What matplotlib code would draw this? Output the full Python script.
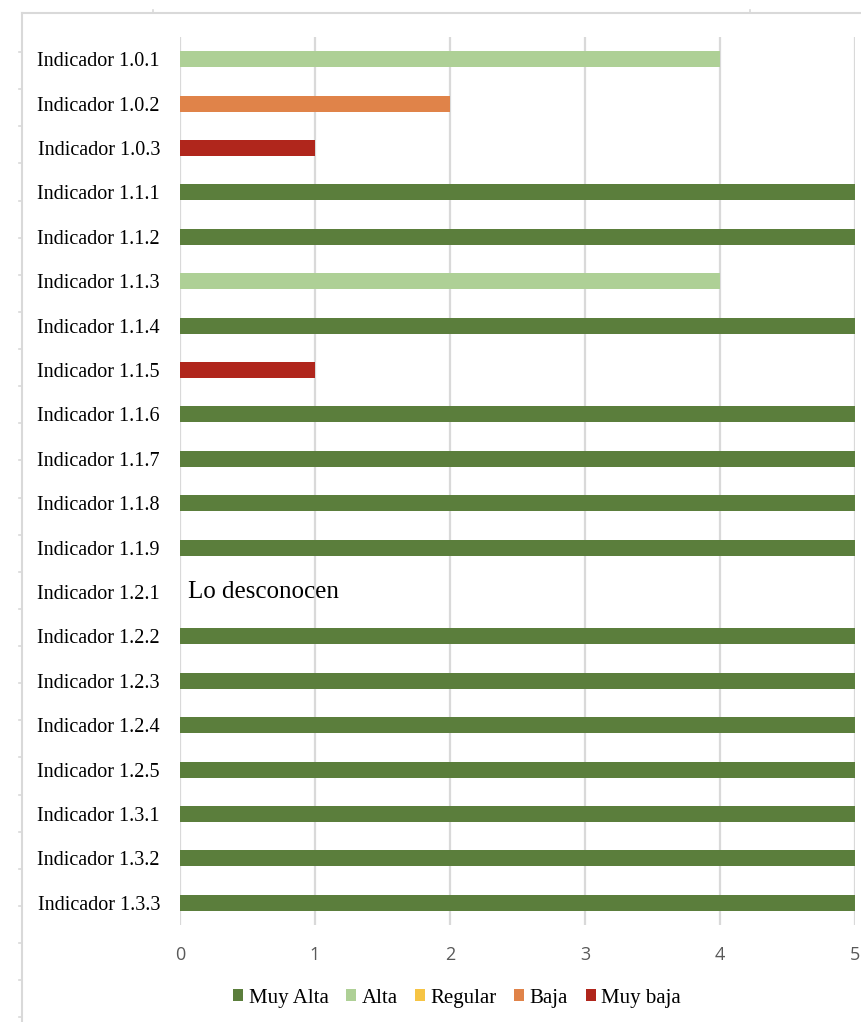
import matplotlib
matplotlib.use("Agg")
import matplotlib.pyplot as plt
from matplotlib.patches import Patch
from matplotlib.lines import Line2D

# Indicators (top to bottom), their score and rating level
indicators = [
    "Indicador 1.0.1", "Indicador 1.0.2", "Indicador 1.0.3",
    "Indicador 1.1.1", "Indicador 1.1.2", "Indicador 1.1.3",
    "Indicador 1.1.4", "Indicador 1.1.5", "Indicador 1.1.6",
    "Indicador 1.1.7", "Indicador 1.1.8", "Indicador 1.1.9",
    "Indicador 1.2.1", "Indicador 1.2.2", "Indicador 1.2.3",
    "Indicador 1.2.4", "Indicador 1.2.5", "Indicador 1.3.1",
    "Indicador 1.3.2", "Indicador 1.3.3",
]
values = [4, 2, 1, 5, 5, 4, 5, 1, 5, 5, 5, 5, 0, 5, 5, 5, 5, 5, 5, 5]
levels = ["Alta", "Baja", "Muy baja", "Muy Alta", "Muy Alta", "Alta",
          "Muy Alta", "Muy baja", "Muy Alta", "Muy Alta", "Muy Alta",
          "Muy Alta", None, "Muy Alta", "Muy Alta", "Muy Alta", "Muy Alta",
          "Muy Alta", "Muy Alta", "Muy Alta"]
unknown_label = "Lo desconocen"

legend_levels = ["Muy Alta", "Alta", "Regular", "Baja", "Muy baja"]
level_colors = {
    "Muy Alta": "#5b7e3c",
    "Alta": "#aed096",
    "Regular": "#f6c444",
    "Baja": "#e08349",
    "Muy baja": "#b0261c",
}
x_ticks = [0, 1, 2, 3, 4, 5]

SERIF = ["Liberation Serif", "DejaVu Serif"]
GRID = "#d9d9d9"

W, H = 862, 1022
fig = plt.figure(figsize=(W / 100, H / 100), dpi=100)
fig.patch.set_facecolor("white")

ax = fig.add_axes([180 / W, 1 - 925 / H, (855 - 180) / W, (925 - 37) / H])

ypos = list(range(len(indicators)))
for y, v, lvl in zip(ypos, values, levels):
    if lvl is None:
        continue
    ax.barh(y, v, height=0.36, color=level_colors[lvl], zorder=3)

ax.set_xlim(0, 5)
ax.set_ylim(len(indicators) - 0.5, -0.5)
ax.set_xticks(x_ticks)
ax.set_xticklabels([str(t) for t in x_ticks], fontsize=13, color="#595959",
                   family=["Open Sans", "DejaVu Sans"])
ax.set_yticks(ypos)
ax.set_yticklabels(indicators, fontsize=14.5, family=SERIF, color="black")
ax.tick_params(axis="both", length=0)
ax.tick_params(axis="y", pad=14.4)
ax.tick_params(axis="x", pad=15)

for s in ax.spines.values():
    s.set_visible(False)
ax.grid(axis="x", color=GRID, linewidth=1.6, zorder=0)
ax.set_axisbelow(True)

# Indicator with no known rating
idx_unknown = levels.index(None)
ax.text(0.06, idx_unknown, unknown_label, fontsize=18, family=SERIF,
        color="black", va="center", ha="left", zorder=4)

# Legend
handles = [Patch(facecolor=level_colors[l], edgecolor="none", label=l)
           for l in legend_levels]
fig.legend(handles=handles, loc="center", ncol=5,
           bbox_to_anchor=(457 / W, 1 - 998 / H), frameon=False,
           prop={"family": SERIF, "size": 15},
           handlelength=0.48, handleheight=0.48, handletextpad=0.25,
           columnspacing=0.85)

# Outer frame with small ticks
fx, fy = 22, 13
fig.add_artist(Line2D([fx / W, fx / W], [1 - fy / H, 0], color=GRID,
                      linewidth=1.5, transform=fig.transFigure))
fig.add_artist(Line2D([fx / W, 1], [1 - fy / H, 1 - fy / H], color=GRID,
                      linewidth=1.5, transform=fig.transFigure))
ty = 52.0
while ty < H:
    fig.add_artist(Line2D([(fx - 3) / W, fx / W], [1 - ty / H, 1 - ty / H],
                          color=GRID, linewidth=1.2, transform=fig.transFigure))
    ty += 37.13
for tx in (153, 750):
    fig.add_artist(Line2D([tx / W, tx / W], [1 - (fy - 3) / H, 1 - fy / H],
                          color=GRID, linewidth=1.2, transform=fig.transFigure))

fig.savefig("out.png", dpi=100, facecolor="white")
